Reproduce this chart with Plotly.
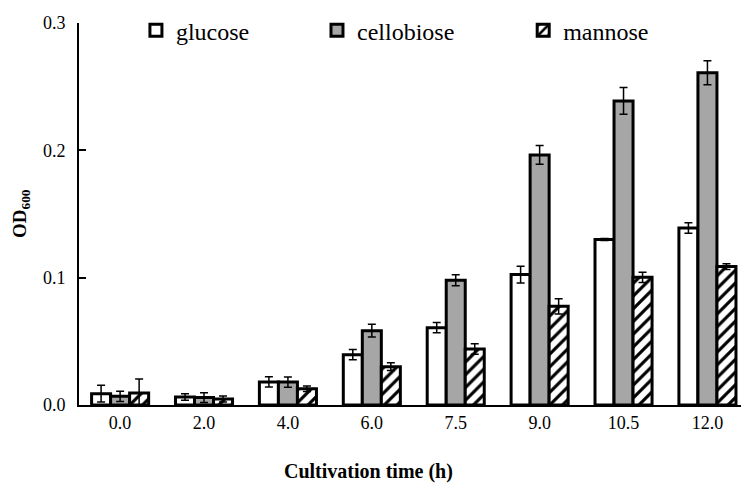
import plotly.graph_objects as go

times = ["0.0", "2.0", "4.0", "6.0", "7.5", "9.0", "10.5", "12.0"]
glucose = [0.0089, 0.0063, 0.0181, 0.0395, 0.0607, 0.1024, 0.1300, 0.1390]
glucose_err = [0.0066, 0.0026, 0.0040, 0.0040, 0.0040, 0.0066, 0.0008, 0.0042]
cellobiose = [0.0068, 0.0058, 0.0180, 0.0584, 0.0980, 0.1964, 0.2388, 0.2610]
cellobiose_err = [0.0040, 0.0039, 0.0040, 0.0050, 0.0043, 0.0073, 0.0105, 0.0094]
mannose = [0.0094, 0.0047, 0.0128, 0.0301, 0.0440, 0.0775, 0.1003, 0.1087]
mannose_err = [0.0110, 0.0024, 0.0021, 0.0030, 0.0042, 0.0060, 0.0040, 0.0022]

FONT = "Liberation Serif"

def err(vals):
    return dict(type="data", array=vals, visible=True, color="black", thickness=1.5, width=4)

fig = go.Figure()
fig.add_trace(go.Bar(name="glucose", x=times, y=glucose, error_y=err(glucose_err), legend="legend",
                     marker=dict(color="white", line=dict(color="black", width=3))))
fig.add_trace(go.Bar(name="cellobiose", x=times, y=cellobiose, error_y=err(cellobiose_err), legend="legend2",
                     marker=dict(color="#a6a6a6", line=dict(color="black", width=3))))
fig.add_trace(go.Bar(name="mannose", x=times, y=mannose, error_y=err(mannose_err), legend="legend3",
                     marker=dict(color="white", line=dict(color="black", width=3),
                                 pattern=dict(shape="/", fgcolor="black", bgcolor="white",
                                              size=9, solidity=0.35, fillmode="replace"))))

leg = dict(itemwidth=30, bgcolor="rgba(0,0,0,0)", xanchor="left", yanchor="middle", y=0.98,
           font=dict(family=FONT, size=24, color="black"))

fig.update_layout(
    width=742, height=483,
    margin=dict(l=79, r=1, t=23, b=78),
    paper_bgcolor="white", plot_bgcolor="white",
    barmode="group", bargap=0.32, bargroupgap=0,
    font=dict(family=FONT, color="black", size=18),
    showlegend=True,
    legend=dict(leg, x=0.086),
    legend2=dict(leg, x=0.3595),
    legend3=dict(leg, x=0.671),
    xaxis=dict(type="category", range=[-0.49, 7.40], showline=True, linecolor="black",
               linewidth=2, ticks="", showgrid=False, zeroline=False, automargin=False,
               tickfont=dict(family=FONT, size=18)),
    yaxis=dict(range=[0, 0.3], dtick=0.1, tickformat=".1f", showline=True, linecolor="black",
               linewidth=2, ticks="inside", ticklen=7, tickwidth=2, tickcolor="black",
               showgrid=False, zeroline=False, automargin=False, ticklabelstandoff=8,
               tickfont=dict(family=FONT, size=18)),
    annotations=[
        dict(text="<b>Cultivation time (h)</b>", xref="paper", yref="paper", x=0.437, y=0,
             yshift=-66, showarrow=False, font=dict(family=FONT, size=20), yanchor="middle",
             xanchor="center"),
        dict(text="<b>OD<sub>600</sub></b>", xref="paper", yref="paper", x=0, y=0.5,
             xshift=-58, showarrow=False, textangle=-90, font=dict(family=FONT, size=19),
             xanchor="center", yanchor="middle"),
    ],
)

fig.write_html("out.html", config={"displayModeBar": False},
               post_script="document.body.style.margin='0px';")
